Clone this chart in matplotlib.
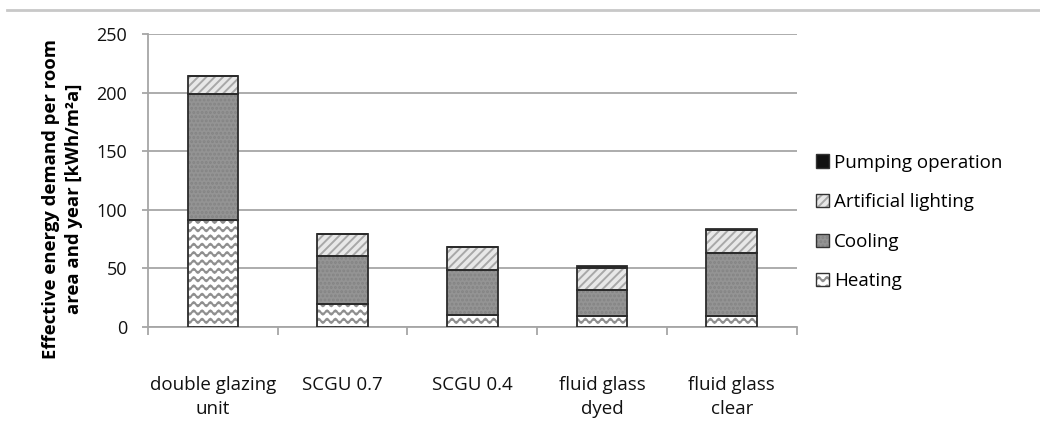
import warnings
import numpy as np
import matplotlib
matplotlib.use("Agg")
import matplotlib.pyplot as plt
import matplotlib.hatch as mhatch
from matplotlib.patches import Patch
from matplotlib.lines import Line2D
from matplotlib.legend_handler import HandlerTuple
from matplotlib.path import Path

warnings.filterwarnings("ignore")

categories = ["double glazing\nunit", "SCGU 0.7", "SCGU 0.4", "fluid glass\ndyed", "fluid glass\nclear"]
heating = [91, 20, 10, 9.5, 9.5]
cooling = [108, 41, 39, 22, 54]
lighting = [15, 18, 19, 19, 19]
pumping = [0, 0, 0, 1.5, 1.5]
series_names = ["Heating", "Cooling", "Artificial lighting", "Pumping operation"]
y_ticks = [0, 50, 100, 150, 200, 250]


# wavy hatch, 'w' in the hatch string
class WaveHatch(mhatch.HatchPatternBase):
    def __init__(self, hatch, density):
        self.rows = int(hatch.count("w") * density)
        self.pts = 97
        self.num_vertices = self.rows * self.pts

    def set_vertices_and_codes(self, vertices, codes):
        xs = np.linspace(0, 1, self.pts)
        k = 0
        for i in range(self.rows):
            y0 = (i + 0.5) / self.rows
            ys = y0 + 0.25 / self.rows * np.sin(2 * np.pi * 12 * xs)
            vertices[k:k + self.pts, 0] = xs
            vertices[k:k + self.pts, 1] = ys
            codes[k:k + self.pts] = Path.LINETO
            codes[k] = Path.MOVETO
            k += self.pts


mhatch._hatch_types.append(WaveHatch)

plt.rcParams["font.family"] = ["Open Sans", "DejaVu Sans"]
plt.rcParams["hatch.linewidth"] = 1.4

# face, hatch, hatch colour
styles = [
    ("white", "ww", "#8f8f8f"),
    ("#949494", "....", "#848484"),
    ("#e8e8e8", "////", "#a8a8a8"),
    ("#111111", "", "#111111"),
]

fig = plt.figure(figsize=(10.4, 4.3), dpi=100)
ax = fig.add_axes([0.1423, 0.2395, 0.766 - 0.1423, 0.921 - 0.2395])

x = np.arange(len(categories))
w = 0.39
bottom = np.zeros(len(categories))
handles = []
for vals, (face, h, hc) in zip([heating, cooling, lighting, pumping], styles):
    vals = np.array(vals, dtype=float)
    ax.bar(x, vals, w, bottom=bottom, color=face, hatch=h, edgecolor=hc, linewidth=0, zorder=3)
    ax.bar(x, vals, w, bottom=bottom, fill=False, edgecolor="#2b2b2b", linewidth=1.3, zorder=4)
    handles.append((Patch(facecolor=face, hatch=h, edgecolor=hc, linewidth=0),
                    Patch(fill=False, edgecolor="#333333", linewidth=1.0)))
    bottom += vals

ax.set_xlim(-0.5, len(categories) - 0.5)
ax.set_ylim(0, 250)
ax.set_yticks(y_ticks)
ax.yaxis.grid(True, color="#a6a6a6", linewidth=1.3, zorder=0)
ax.set_axisbelow(True)

ax.set_xticks(x)
ax.set_xticklabels(categories, fontsize=13.5, color="#111111", linespacing=1.42)
ax.set_xticks(np.arange(-0.5, len(categories)), minor=True)
ax.tick_params(axis="x", which="major", length=0, pad=35)
ax.tick_params(axis="x", which="minor", length=6, color="#a6a6a6", width=1.3)
ax.tick_params(axis="y", length=4.5, color="#a6a6a6", width=1.3, labelsize=13, pad=10.5, labelcolor="#111111")

for s in ["top", "right"]:
    ax.spines[s].set_visible(False)
for s in ["left", "bottom"]:
    ax.spines[s].set_color("#a6a6a6")
    ax.spines[s].set_linewidth(1.3)

ax.set_ylabel("Effective energy demand per room\narea and year [kWh/m²a]",
              fontsize=13.3, fontweight="bold", linespacing=1.4)
ax.yaxis.set_label_coords(-0.100, 0.437)

leg = fig.legend(handles[::-1], series_names[::-1], loc="center left",
                 bbox_to_anchor=(0.768, 0.484), frameon=False, fontsize=13.5,
                 handlelength=0.7, handleheight=0.7, handletextpad=0.3,
                 labelspacing=1.15, handler_map={tuple: HandlerTuple(ndivide=1, pad=0)})

# thin separator at the top
fig.add_artist(Line2D([0.007, 1], [0.977, 0.977], color="#c8c8c8", linewidth=2))

fig.savefig("out.png", dpi=100)
